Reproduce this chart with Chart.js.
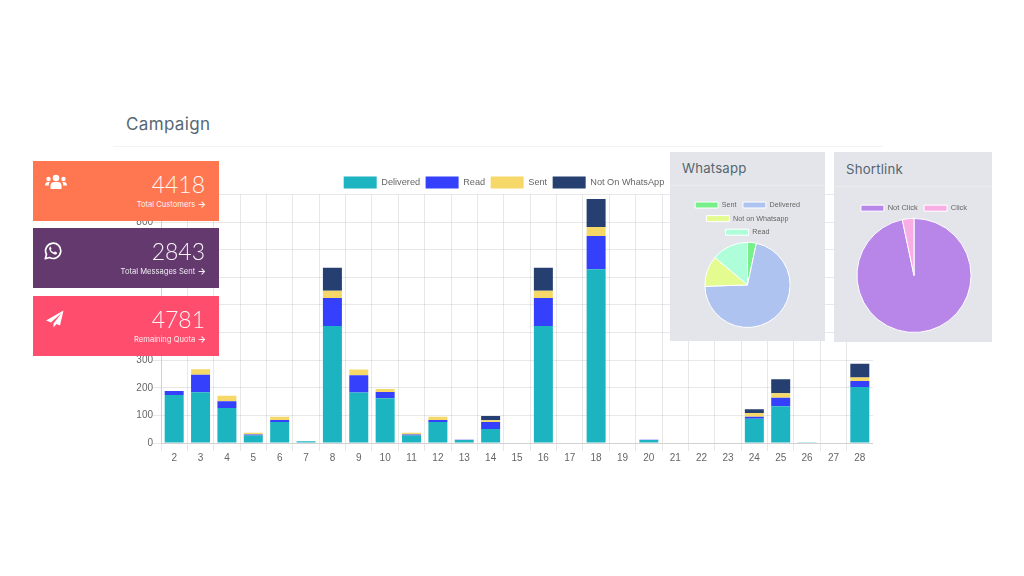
<!DOCTYPE html>
<html><head><meta charset="utf-8">
<script src="https://cdn.jsdelivr.net/npm/chart.js@4"></script>
<style>
html,body{margin:0;padding:0;background:#fff;width:1024px;height:576px;overflow:hidden;font-family:Inter,sans-serif}
#page{position:absolute;left:0;top:0;width:1024px;height:576px;background:#fff;filter:blur(.4px)}
.abs{position:absolute}
#title{left:126px;top:113px;font-size:17px;line-height:22px;color:#566774;letter-spacing:.35px;font-weight:400}
#rule{left:113px;top:146px;width:770px;height:1px;background:#f3f3f3}
.card{position:absolute;left:33px;width:186px;height:60px;color:#fff;box-sizing:border-box}
.num{position:absolute;right:14px;top:8px;font:300 23px/30px Lato,sans-serif;opacity:.95}
.sub{position:absolute;right:13px;top:39px;font:400 7.6px/10px Inter,sans-serif;opacity:.9;white-space:nowrap}
.sub b{font-size:9px;line-height:8px;margin-left:0}
.card svg{position:absolute;left:12px;top:13px}
.panel{position:absolute;background:#e4e5ea;box-sizing:border-box}
.panel h3{margin:0;position:absolute;left:12px;top:7px;font:400 13.2px/18px Inter,sans-serif;color:#55656f;letter-spacing:.2px}
.panel i{position:absolute;left:0;right:0;height:1px;background:#ebecf0}
canvas{position:absolute}
</style></head><body><div id="page">
<div class="abs" id="title">Campaign</div>
<div class="abs" id="rule"></div>
<canvas id="bars" style="left:135px;top:170.5px;width:738px;height:300px" width="738" height="300"></canvas>

<div class="card" style="top:160.5px;background:#ff7751">
<svg width="22" height="16" viewBox="0 0 22 16" fill="#fff"><circle cx="11" cy="4" r="3.2"/><circle cx="3.5" cy="5" r="2.2"/><circle cx="18.5" cy="5" r="2.2"/><path d="M5.5 15v-3.5C5.5 9 7.5 8 9 8h4c1.5 0 3.500 1 3.500 3.500V15z"/><path d="M0 11.500C0 9 1.500 8 3 8h1.800C4 9 3.800 10 3.800 11.500H0zM22 11.500C22 9 20.500 8 19 8h-1.800c.8 1 1 2 1 3.500H22z"/></svg>
<div class="num">4418</div><div class="sub">Total Customers <b>&#8594;</b></div></div>
<div class="card" style="top:228px;background:#63396e">
<svg width="18" height="18" viewBox="0 0 18 18" style="left:11px;top:14px"><path d="M1.300 16.700l1.200-4.200A7.600 7.600 0 1 1 5.500 15.500z" fill="none" stroke="#fff" stroke-width="1.700" stroke-linejoin="round"/><path d="M6 4.800c-1 .8-1.100 2.200-.3 3.700 1 1.800 2.500 3 4.300 3.800 1.400.5 2.600 0 3-.9.200-.5.100-.9-.2-1l-1.600-.8c-.3-.1-.5 0-.7.200l-.5.7c-1.300-.5-2.500-1.500-3.200-2.800l.5-.6c.2-.2.200-.4.100-.7l-.7-1.500c-.1-.3-.4-.4-.7-.1z" fill="#fff"/></svg>
<div class="num">2843</div><div class="sub">Total Messages Sent <b>&#8594;</b></div></div>
<div class="card" style="top:296px;background:#ff4d6d">
<svg width="18" height="18" viewBox="0 0 18 18" style="left:12.500px;top:14px"><path d="M17.500.500L0 10.500l5 2L15.500 3 7.500 13.500V17.500l3-3.500 3.500 1.500z" fill="#fff"/></svg>
<div class="num">4781</div><div class="sub">Remaining Quota <b>&#8594;</b></div></div>

<div class="panel" style="left:670px;top:152px;width:154.500px;height:188.500px"><h3>Whatsapp</h3><i style="top:33px"></i></div>
<div class="panel" style="left:834px;top:151.500px;width:158px;height:190px"><h3 style="top:8px">Shortlink</h3><i style="top:34.500px"></i></div>
<canvas id="pie1" style="left:685px;top:195px;width:125px;height:133px" width="125" height="133"></canvas>
<canvas id="pie2" style="left:835px;top:198px;width:158px;height:135px" width="158" height="135"></canvas>
</div>
<script>
const days = ["2","3","4","5","6","7","8","9","10","11","12","13","14","15","16","17","18","19","20","21","22","23","24","25","26","27","28"];
const delivered = [174,184,127,27,76,6,424,183,162,27,76,11,51,0,424,0,629,0,11,0,0,0,88,133,1,0,203];
const read      = [14,63,24,4,7,0,101,62,23,4,7,1,25,0,101,0,121,0,1,0,0,0,7,31,0,0,22];
const sent      = [0,20,20,6,12,0,26,21,11,6,12,0,6,0,26,0,32,0,0,0,0,0,14,16,0,0,12];
const notOnWhatsApp = [0,0,0,0,0,0,84,0,0,0,0,0,16,0,84,0,102,0,0,0,0,0,13,51,0,0,50];
const yMax = 900;
const yStep = 100;
const whatsappLabels = ["Sent","Delivered","Not on Whatsapp","Read"];
const whatsappValues = [95,2022,332,394];
const shortlinkLabels = ["Not Click","Click"];
const shortlinkValues = [96.7,3.3];

Chart.defaults.font.family = '"Liberation Sans", Arial, sans-serif';
Chart.defaults.color = '#666';
Chart.defaults.animation = false;
// The reference's legends sit closer to the plot than Chart.js's default gap.
const trimLegend = {id:'trimLegend', beforeLayout(c){
  const l = c.legend;
  if (l && !l._trimmed) { const f = l.fit.bind(l); l.fit = function(){ f(); this.height -= 4; }; l._trimmed = true; }
}};
const ds = (label, data, c) => ({label, data, backgroundColor:c, borderColor:c, borderWidth:0});
new Chart(document.getElementById('bars'), {
  type:'bar',
  plugins:[trimLegend],
  data:{labels:days, datasets:[
    ds('Delivered',delivered,'#1cb4c0'),
    ds('Read',read,'#3440fb'),
    ds('Sent',sent,'#f6d868'),
    ds('Not On WhatsApp',notOnWhatsApp,'#243f70')
  ]},
  options:{responsive:false, maintainAspectRatio:false,
    plugins:{legend:{position:'top',labels:{boxWidth:33,boxHeight:12,padding:5.5,font:{size:9.2}}},tooltip:{enabled:false}},
    scales:{
      x:{stacked:true,grid:{color:'rgba(0,0,0,.09)',tickLength:8},ticks:{font:{size:10},maxRotation:0,autoSkip:false,padding:1},
         afterFit(a){a.height=28}},
      y:{stacked:true,min:0,max:yMax,grid:{color:'rgba(0,0,0,.09)',tickLength:8},ticks:{stepSize:yStep,font:{size:10},padding:0},
         afterFit(a){a.width=26;a.paddingTop=0;a.paddingBottom=0}}
    }}
});
const pie = (id, labels, data, colors, size) => new Chart(document.getElementById(id), {
  type:'pie',
  plugins:[trimLegend],
  data:{labels, datasets:[{data, backgroundColor:colors, borderColor:'#fff', borderWidth:1}]},
  options:{responsive:false, maintainAspectRatio:false,
    plugins:{legend:{position:'top',labels:{boxWidth:23,boxHeight:6,padding:6.4,font:{size}}},tooltip:{enabled:false}}}
});
pie('pie1', whatsappLabels, whatsappValues, ['#77f08a','#afc3f1','#e3fb8f','#aeffd9'], 7.2);
pie('pie2', shortlinkLabels, shortlinkValues, ['#b886e8','#f8ade4'], 7.5);
</script>
</body></html>
